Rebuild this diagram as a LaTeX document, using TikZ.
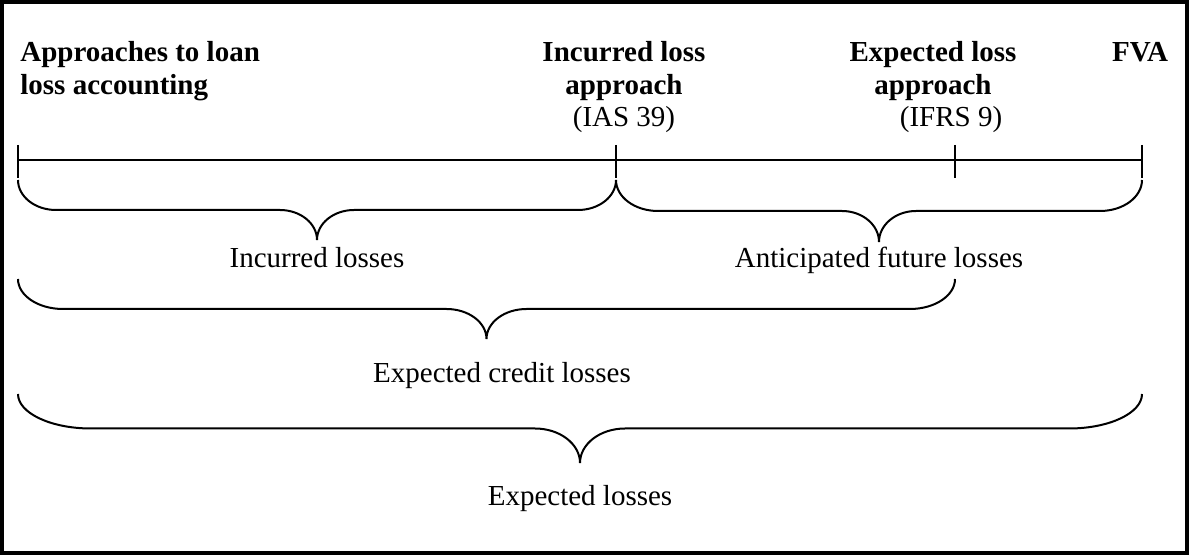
\documentclass[tikz,border=0pt]{standalone}
\usepackage{fontspec}
\setmainfont{Liberation Serif}
\begin{document}
\begin{tikzpicture}[x=.5pt,y=-.5pt,
  every node/.style={inner sep=0pt,font=\fontsize{14.5}{16.5}\selectfont},
  head/.style={font=\fontsize{14.5}{16.5}\selectfont\bfseries},
  axis/.style={line width=1pt},
  brc/.style={line width=1pt}]
\useasboundingbox (0,0) rectangle (1189,555);
\draw[line width=2pt] (2,2) rectangle (1187,553);

% headings (base = last line)
\node[head,align=left,anchor=base west] (acc) at (20,95) {Approaches to loan\\loss accounting};
\node[head,align=center,anchor=base] (ila) at (624,95) {Incurred loss\\approach};
\node[anchor=base] (ias) at (624,127) {(IAS 39)};
\node[head,align=center,anchor=base] (ela) at (933,95) {Expected loss\\approach};
\node[anchor=base] (ifrs) at (951,127) {(IFRS 9)};
\node[head,anchor=base] (fva) at (1140,62) {FVA};

% time line
\coordinate (t0) at (18,160);
\coordinate (t1) at (616,160);
\coordinate (t2) at (955,160);
\coordinate (t3) at (1142,160);
\draw[axis] (t0)--(t3);
\foreach \p in {t0,t1,t2,t3}
{
   \draw[axis] ([yshift=7.5pt]\p)--([yshift=-9pt]\p);
}

% braces: left/right/top/half depth/corner width/tip width
\foreach \a/\b/\t/\d/\w/\c in {18/616/180/30/38/37,616/1142/180/31/42/37,18/955/279/30/45/40,18/1142/394/34.5/73/45}
{
   \pgfmathsetmacro\m{(\a+\b)/2}
   \draw[brc] (\a,\t) .. controls (\a,{\t+0.552*\d}) and ({\a+0.448*\w},{\t+\d}) .. ({\a+\w},{\t+\d})
     -- ({\m-\c},{\t+\d}) .. controls ({\m-0.448*\c},{\t+\d}) and (\m,{\t+1.448*\d}) .. (\m,{\t+2*\d})
     .. controls (\m,{\t+1.448*\d}) and ({\m+0.448*\c},{\t+\d}) .. ({\m+\c},{\t+\d})
     -- ({\b-\w},{\t+\d}) .. controls ({\b-0.448*\w},{\t+\d}) and (\b,{\t+0.552*\d}) .. (\b,\t);
}

\node[anchor=base] (inl) at (317,268) {Incurred losses};
\node[anchor=base] (afl) at (879,268) {Anticipated future losses};
\node[anchor=base] (ecl) at (502,383) {Expected credit losses};
\node[anchor=base] (exl) at (580,506) {Expected losses};
\end{tikzpicture}
\end{document}
